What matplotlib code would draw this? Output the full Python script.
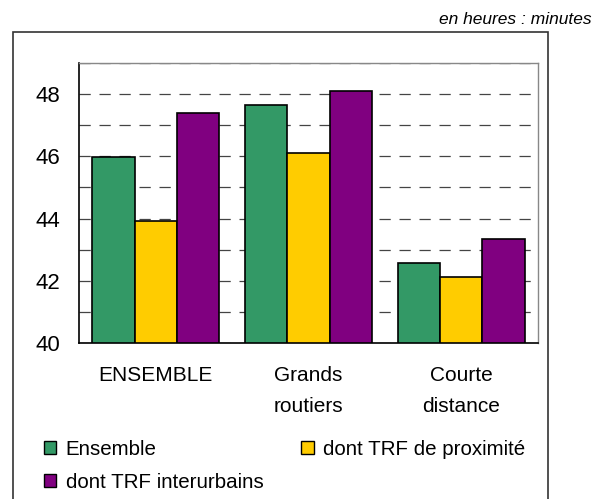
import numpy as np
import matplotlib
matplotlib.use('Agg')
import matplotlib.pyplot as plt
from matplotlib.patches import Rectangle, Patch

plt.rcParams['font.family'] = ['Liberation Sans', 'DejaVu Sans']

CATEGORIES = ['ENSEMBLE', 'Grands\nroutiers', 'Courte\ndistance']
SERIES = ['Ensemble', 'dont TRF de proximité', 'dont TRF interurbains']
ENSEMBLE = [45.98, 47.65, 42.56]
PROXIMITE = [43.91, 46.11, 42.11]
INTERURBAINS = [47.40, 48.11, 43.35]
YTICKS = [40, 42, 44, 46, 48]

COLORS = ['#339966', '#FFCC00', '#800080']

fig = plt.figure(figsize=(6.05, 4.99), dpi=100)
ax = fig.add_axes([0.1311, 0.3132, 0.7577, 0.5599])

x = np.arange(len(CATEGORIES))
w = 0.277
handles = []
for k, (vals, col, lab) in enumerate(zip([ENSEMBLE, PROXIMITE, INTERURBAINS], COLORS, SERIES)):
    ax.bar(x + (k - 1) * w, np.array(vals) - 40, width=w, bottom=40,
           color=col, edgecolor='black', linewidth=1.2, zorder=3)
    handles.append(Patch(facecolor=col, edgecolor='black', linewidth=1.0, label=lab))

ax.set_xlim(-0.5, 2.5)
ax.set_ylim(40, 49)
ax.set_yticks(YTICKS)
ax.set_yticks(np.arange(41, 50), minor=True)
ax.yaxis.grid(True, which='both', color='#444444', linestyle=(0, (9, 7)), linewidth=0.9, zorder=0)
ax.set_xticks(x)
ax.set_xticklabels(CATEGORIES, fontsize=15, linespacing=1.75)
ax.tick_params(axis='x', length=0, pad=17)
ax.tick_params(axis='y', which='both', length=0, pad=14, labelsize=16)

for s in ['left', 'bottom']:
    ax.spines[s].set_color('black')
    ax.spines[s].set_linewidth(1.2)
for s in ['top', 'right']:
    ax.spines[s].set_color('#888888')
    ax.spines[s].set_linewidth(1.0)

# outer frame
fig.add_artist(Rectangle((13.3 / 605, -0.01), (548 - 13.3) / 605, 1.01 - 31.7 / 499,
                         transform=fig.transFigure, fill=False,
                         edgecolor='#333333', linewidth=1.2))

fig.text(592 / 605, 1 - 19 / 499, 'en heures : minutes', ha='right', va='center',
         fontsize=12.5, style='italic')

order = [handles[0], handles[2], handles[1]]
fig.legend(handles=order, labels=[h.get_label() for h in order], ncol=2,
           loc='upper left', bbox_to_anchor=(44 / 605, 1 - 440 / 499),
           frameon=False, fontsize=14.8, handlelength=0.6, handleheight=0.6,
           handletextpad=0.45, columnspacing=1.85, labelspacing=0.68,
           borderaxespad=0, borderpad=0)

plt.savefig('out.png', dpi=100)
plt.close()
